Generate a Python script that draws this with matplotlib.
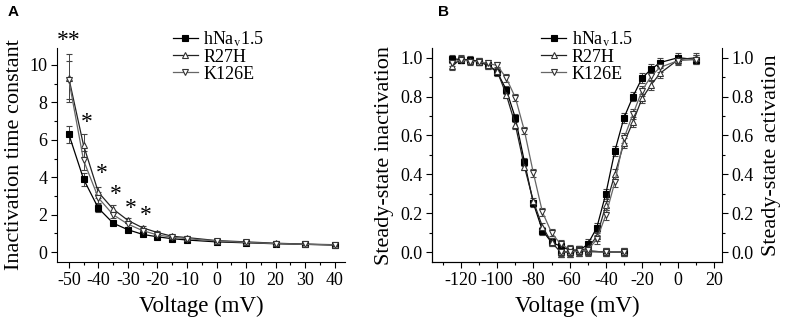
import matplotlib
matplotlib.use("Agg")
import matplotlib.pyplot as plt
from matplotlib.ticker import MultipleLocator, FormatStrFormatter
from matplotlib.lines import Line2D

plt.rcParams['font.family'] = ['Liberation Serif', 'DejaVu Serif']
plt.rcParams['mathtext.fontset'] = 'stix'
plt.rcParams['axes.unicode_minus'] = False

# panel A: inactivation time constants
volt_a = [-50, -45, -40, -35, -30, -25, -20, -15, -10, 0, 10, 20, 30, 40]
tau_wt = [6.3, 3.9, 2.35, 1.55, 1.2, 0.95, 0.82, 0.72, 0.65, 0.55, 0.5, 0.45, 0.42, 0.38]
tau_wt_err = [0.45, 0.35, 0.2, 0.1, 0.1, 0.08, 0.06, 0.05, 0.05, 0.04, 0.04, 0.03, 0.03, 0.03]
tau_r27h = [9.3, 5.7, 3.2, 2.3, 1.7, 1.3, 1.05, 0.85, 0.78, 0.62, 0.55, 0.48, 0.43, 0.4]
tau_r27h_err = [1.3, 0.6, 0.3, 0.2, 0.15, 0.12, 0.1, 0.08, 0.07, 0.05, 0.05, 0.04, 0.04, 0.04]
tau_k126e = [9.2, 4.9, 2.9, 2.0, 1.5, 1.15, 0.92, 0.8, 0.72, 0.6, 0.52, 0.46, 0.42, 0.39]
tau_k126e_err = [1.0, 0.5, 0.3, 0.2, 0.15, 0.1, 0.08, 0.07, 0.06, 0.05, 0.04, 0.04, 0.03, 0.03]
sig_x = [-50, -44, -39, -34, -29, -24]
sig_y = [11.3, 6.9, 4.2, 3.1, 2.35, 1.95]
sig_txt = ['**', '*', '*', '*', '*', '*']

# panel B: steady-state inactivation
volt_inact = [-125, -120, -115, -110, -105, -100, -95, -90, -85, -80, -75, -70,
              -65, -60, -55, -50, -40, -30]
inact_wt = [0.995, 0.99, 0.99, 0.98, 0.96, 0.925, 0.835, 0.69, 0.465, 0.25, 0.11, 0.05,
            0.03, 0.01, 0.01, 0.005, 0.0, 0.0]
inact_r27h = [0.955, 0.995, 0.985, 0.98, 0.96, 0.93, 0.81, 0.655, 0.44, 0.26, 0.13, 0.05,
              0.0, 0.0, 0.005, 0.005, 0.0, 0.0]
inact_k126e = [0.975, 0.99, 0.98, 0.98, 0.97, 0.96, 0.895, 0.795, 0.625, 0.405, 0.205, 0.10,
               0.04, 0.015, 0.01, 0.0, 0.0, 0.0]

# panel B: steady-state activation
volt_act = [-65, -60, -55, -50, -45, -40, -35, -30, -25, -20, -15, -10, 0, 10]
act_wt = [0.0, 0.0, 0.005, 0.04, 0.125, 0.30, 0.52, 0.69, 0.80, 0.895, 0.94, 0.975, 1.0, 0.99]
act_r27h = [0.0, 0.0, 0.005, 0.02, 0.08, 0.24, 0.40, 0.56, 0.67, 0.79, 0.86, 0.92, 0.99, 1.0]
act_k126e = [0.0, 0.0, 0.005, 0.01, 0.065, 0.19, 0.36, 0.585, 0.71, 0.83, 0.905, 0.95, 0.985, 0.99]

labels = [r'hNa$_\mathrm{v}$1.5', 'R27H', 'K126E']
styles = [dict(marker='s', mfc='black', mec='black', color='black'),
          dict(marker='^', mfc='white', mec='#333333', color='#222222'),
          dict(marker='v', mfc='white', mec='#333333', color='#666666')]
mark = dict(ms=4.5, mew=0.8, lw=0.9)
ebar = dict(elinewidth=0.7, capsize=2.5, capthick=0.7, ecolor='#444444')

fig = plt.figure(figsize=(7.87, 3.24), dpi=100)
axA = fig.add_axes([0.0724, 0.191, 0.366, 0.661])
axB = fig.add_axes([0.549, 0.191, 0.368, 0.661])


def style_axis(ax):
    ax.spines['top'].set_visible(False)
    ax.spines['right'].set_visible(False)
    ax.tick_params(direction='out', length=4, width=0.8, labelsize=13, pad=3)
    ax.tick_params(which='minor', direction='out', length=2.5, width=0.8)


def add_legend(ax, x0):
    handles = [Line2D([], [], **st, **mark) for st in styles]
    ax.legend(handles, labels, loc='upper left', bbox_to_anchor=(x0, 1.13),
              frameon=False, fontsize=13, handlelength=1.4, handletextpad=0.3,
              labelspacing=0.0, borderpad=0)


# ---- A ----
for y, e, st in zip([tau_wt, tau_r27h, tau_k126e],
                    [tau_wt_err, tau_r27h_err, tau_k126e_err], styles):
    axA.errorbar(volt_a, y, yerr=e, **mark, **ebar, **st)
for x, y, t in zip(sig_x, sig_y, sig_txt):
    axA.text(x, y, t, ha='center', va='center', fontsize=17, clip_on=False)

axA.set_xlim(-54, 43.5)
axA.set_ylim(-0.53, 10.9)
axA.xaxis.set_major_locator(MultipleLocator(10))
axA.xaxis.set_minor_locator(MultipleLocator(5))
axA.yaxis.set_major_locator(MultipleLocator(2))
axA.yaxis.set_minor_locator(MultipleLocator(1))
style_axis(axA)
axA.set_xlabel('Voltage (mV)', fontsize=16.5, labelpad=5)
axA.set_ylabel('Inactivation time constant', fontsize=16, labelpad=4)
add_legend(axA, 0.37)

# ---- B ----
for y, st in zip([inact_wt, inact_r27h, inact_k126e], styles):
    axB.errorbar(volt_inact, y, yerr=0.02, **mark, **ebar, **st)
for y, st in zip([act_wt, act_r27h, act_k126e], styles):
    axB.errorbar(volt_act, y, yerr=0.025, **mark, **ebar, **st)

axB.set_xlim(-136, 24)
axB.set_ylim(-0.052, 1.05)
axB.xaxis.set_major_locator(MultipleLocator(20))
axB.xaxis.set_minor_locator(MultipleLocator(10))
axB.yaxis.set_major_locator(MultipleLocator(0.2))
axB.yaxis.set_minor_locator(MultipleLocator(0.1))
axB.yaxis.set_major_formatter(FormatStrFormatter('%.1f'))
style_axis(axB)
axB.set_xlabel('Voltage (mV)', fontsize=16.5, labelpad=5)
axB.set_ylabel('Steady-state inactivation', fontsize=16, labelpad=4)
add_legend(axB, 0.345)

axB2 = axB.twinx()
axB2.set_ylim(axB.get_ylim())
axB2.yaxis.set_major_locator(MultipleLocator(0.2))
axB2.yaxis.set_minor_locator(MultipleLocator(0.1))
axB2.yaxis.set_major_formatter(FormatStrFormatter('%.1f'))
axB2.spines['top'].set_visible(False)
axB2.tick_params(direction='out', length=4, width=0.8, labelsize=13, pad=3)
axB2.tick_params(which='minor', direction='out', length=2.5, width=0.8)
axB2.set_ylabel('Steady-state activation', fontsize=16, labelpad=6)

fig.text(0.010, 0.962, 'A', fontsize=11, fontweight='bold', family='Liberation Sans',
         ha='left', va='center')
fig.text(0.557, 0.962, 'B', fontsize=11, fontweight='bold', family='Liberation Sans',
         ha='left', va='center')

fig.savefig('out.png', dpi=100)
